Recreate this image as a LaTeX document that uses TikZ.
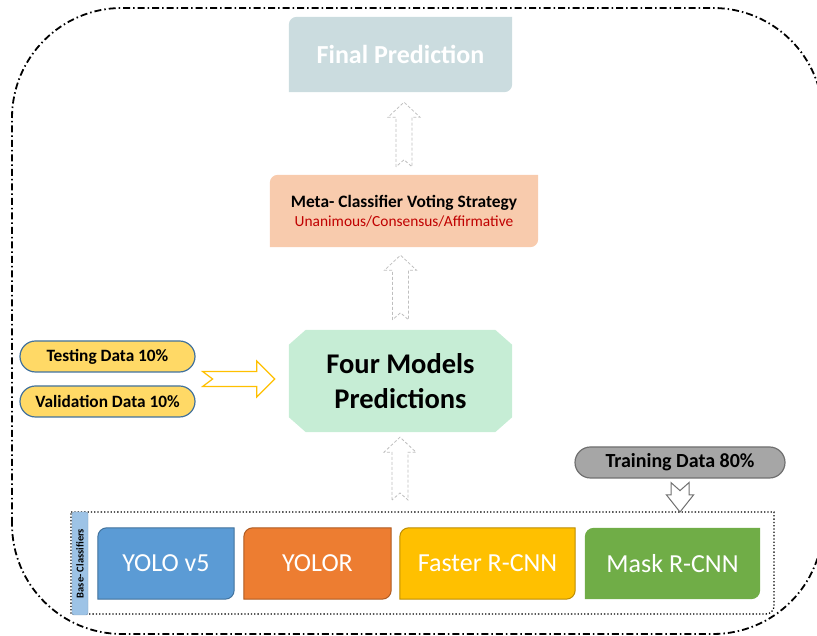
\documentclass[tikz,border=0pt]{standalone}
\usepackage{fontspec}
\setmainfont{Carlito}
\usetikzlibrary{calc,backgrounds}

\definecolor{finalfill}{HTML}{CBDCDF}
\definecolor{metafill}{HTML}{F8CBAD}
\definecolor{fourfill}{HTML}{C6EDD5}
\definecolor{metared}{HTML}{C00000}
\definecolor{pillfill}{HTML}{FFD966}
\definecolor{pillline}{HTML}{41719C}
\definecolor{trainfill}{HTML}{A6A6A6}
\definecolor{trainline}{HTML}{6F6F6F}
\definecolor{stripfill}{HTML}{9DC3E6}
\definecolor{ghostgray}{HTML}{BFBFBF}
\definecolor{arrowyellow}{HTML}{FFC000}
\definecolor{yoloblue}{HTML}{5B9BD5}
\definecolor{yoloorange}{HTML}{ED7D31}
\definecolor{yoloorangeline}{HTML}{AE5A21}
\definecolor{fasteryellow}{HTML}{FFC000}
\definecolor{fasterline}{HTML}{BC8C00}
\definecolor{maskgreen}{HTML}{70AD47}

% box with rounded top-left and bottom-right corners, drawn behind node #2
\newcommand{\diagshape}[3][8pt]{%
  \path[#3] (#2.south west) -- ([yshift=-#1]#2.north west)
    arc[start angle=180,end angle=90,radius=#1] -- (#2.north east)
    -- ([yshift=#1]#2.south east) arc[start angle=0,end angle=-90,radius=#1]
    -- cycle;}

% hollow block arrows with a notched tail: style, tail, tip
\newcommand{\fatup}[3]{%
  \draw[#1] let \p1=(#2), \p2=(#3) in
    (\x1-8pt,\y1) -- (\x1-8pt,\y2-15pt) -- (\x1-16pt,\y2-15pt) -- (\x1,\y2)
    -- (\x1+16pt,\y2-15pt) -- (\x1+8pt,\y2-15pt) -- (\x1+8pt,\y1)
    -- (\x1,\y1+7pt) -- cycle;}
\newcommand{\fatdown}[3]{%
  \draw[#1] let \p1=(#2), \p2=(#3) in
    (\x1-9pt,\y1) -- (\x1-9pt,\y2+17pt) -- (\x1-13.5pt,\y2+17pt) -- (\x1,\y2)
    -- (\x1+13.5pt,\y2+17pt) -- (\x1+9pt,\y2+17pt) -- (\x1+9pt,\y1)
    -- (\x1,\y1-8pt) -- cycle;}
\newcommand{\fatright}[3]{%
  \draw[#1] let \p1=(#2), \p2=(#3) in
    (\x1,\y1+7.5pt) -- (\x2-18pt,\y1+7.5pt) -- (\x2-18pt,\y1+18pt) -- (\x2,\y1)
    -- (\x2-18pt,\y1-18pt) -- (\x2-18pt,\y1-7.5pt) -- (\x1,\y1-7.5pt)
    -- (\x1+10pt,\y1) -- cycle;}

\tikzset{
  stagebox/.style={inner sep=0pt, align=center},
  pill/.style={rounded corners=15.5pt, draw=pillline, line width=1.2pt, fill=pillfill,
    minimum width=175pt, minimum height=31pt, inner sep=0pt,
    font=\fontsize{17.3}{20}\selectfont\bfseries},
  modelbox/.style={minimum height=71pt, inner sep=0pt, text=white,
    font=\fontsize{26}{30}\selectfont},
  ghost/.style={draw=ghostgray, dash pattern=on 3pt off 2pt, line width=0.8pt, fill=white},
  frameline/.style={line width=1.8pt, dash pattern=on 7pt off 3pt on 1.5pt off 3pt},
}

\begin{document}
\begin{tikzpicture}[x=1pt,y=1pt]
  \useasboundingbox (0,0) rectangle (817,636);

  % stages of the ensemble
  \node[stagebox, minimum width=223pt, minimum height=75pt, text=white,
    font=\fontsize{26}{30}\selectfont\bfseries] (final) at (400.5,581.5) {Final Prediction};
  \node[stagebox, minimum width=268pt, minimum height=72pt,
    font=\fontsize{17}{19.5}\selectfont] (meta) at (404,425)
    {{\fontsize{17.4}{19.5}\selectfont\bfseries Meta- Classifier Voting Strategy}\\
     {\fontsize{15.4}{19.5}\selectfont\color{metared}Unanimous/Consensus/Affirmative}};
  \node[stagebox, minimum width=223pt, minimum height=102pt,
    font=\fontsize{28.5}{35}\selectfont\bfseries] (fourpred) at (400.5,255) {Four Models\\Predictions};

  % data splits
  \node[pill] (testdata) at (107.5,279.5) {Testing Data 10\%};
  \node[pill] (validdata) at (107.5,234.5) {Validation Data 10\%};
  \node[pill, fill=trainfill, draw=trainline, minimum width=210pt,
    font=\fontsize{20}{23}\selectfont\bfseries] (traindata) at (680,173.5) {Training Data 80\%};

  % base classifiers
  \node[rotate=90, minimum width=103pt, minimum height=16pt, inner sep=0pt,
    fill=stripfill, draw=stripfill!80!black, line width=0.4pt, rounded corners=2pt,
    font=\fontsize{10.5}{12}\selectfont\bfseries] (basestrip) at (80,72.5) {Base- Classifiers};
  \node[modelbox, minimum width=136pt] (yolov5) at (166,72.5) {YOLO v5};
  \node[modelbox, minimum width=147pt] (yolor) at (317.5,72.5) {YOLOR};
  \node[modelbox, minimum width=175pt] (faster) at (487.5,72.5) {Faster R-CNN};
  \node[modelbox, minimum width=175pt] (mask) at (672.5,72.5) {Mask R-CNN};
  \coordinate (frametop) at (680,124);

  \begin{pgfonlayer}{background}
    % outer dash-dot frame
    \begin{scope}
      \clip (0,0) rectangle (817,636);
      \draw[frameline, rounded corners=110pt] (12,2) rectangle (823,628);
    \end{scope}
    % dotted frame round the base classifiers
    \draw[dotted, line width=1.3pt] (71,124) -- (774,124) -- (774,30)
      arc[start angle=0,end angle=-90,radius=8pt] -- (71,22) -- cycle;
    \diagshape{final}{fill=finalfill}
    \diagshape{meta}{fill=metafill}
    \path[fill=fourfill] ([xshift=17pt]fourpred.north west) -- ([xshift=-17pt]fourpred.north east)
      -- ([yshift=-15pt]fourpred.north east) -- ([yshift=15pt]fourpred.south east)
      -- ([xshift=-17pt]fourpred.south east) -- ([xshift=17pt]fourpred.south west)
      -- ([yshift=15pt]fourpred.south west) -- ([yshift=-15pt]fourpred.north west) -- cycle;
    \diagshape[9pt]{yolov5}{fill=yoloblue, draw=pillline, line width=1pt}
    \diagshape[9pt]{yolor}{fill=yoloorange, draw=yoloorangeline, line width=1pt}
    \diagshape[9pt]{faster}{fill=fasteryellow, draw=fasterline, line width=1pt}
    \diagshape[9pt]{mask}{fill=maskgreen}
  \end{pgfonlayer}

  % flow arrows
  \fatup{ghost}{$(meta.north)+(0,8)$}{$(final.south)+(0,-10)$}
  \fatup{ghost}{$(fourpred.north)+(0,10)$}{$(meta.south)+(0,-8)$}
  \fatup{ghost}{$(frametop)+(-280,12)$}{$(fourpred.south)+(0,-5)$}
  \fatdown{draw=trainline, line width=1pt, fill=white}{$(traindata.south)+(0,-4)$}{frametop}
  \coordinate (splits) at ($(testdata.east)!0.5!(validdata.east)+(7,0)$);
  \fatright{draw=arrowyellow, line width=1.2pt, fill=white}{splits}{$(fourpred.west)+(-14,0)$}
\end{tikzpicture}
\end{document}
